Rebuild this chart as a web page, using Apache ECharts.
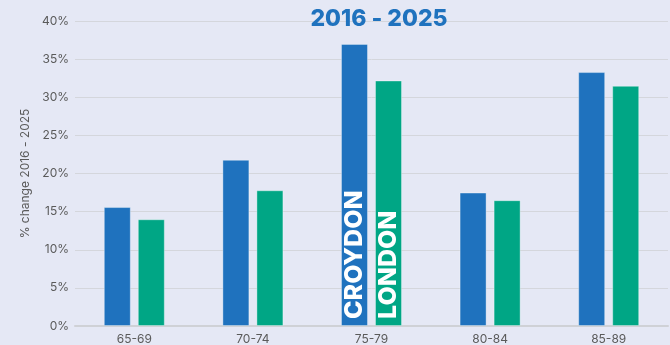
<!DOCTYPE html>
<html>
<head>
<meta charset="utf-8">
<script src="https://cdn.jsdelivr.net/npm/echarts@6/dist/echarts.min.js"></script>
<style>
  html, body { margin: 0; padding: 0; background: #e5e8f5; }
  #chart { width: 670px; height: 345px; }
</style>
</head>
<body>
<div id="chart"></div>
<script>
// Age bands and percentage change in population, 2016 - 2025
const ageBands = ['65-69', '70-74', '75-79', '80-84', '85-89'];
const croydon = [15.6, 21.8, 37.0, 17.5, 33.3];
const london = [14.0, 17.8, 32.2, 16.5, 31.5];
const yTicks = { min: 0, max: 40, interval: 5 };

const chart = echarts.init(document.getElementById('chart'));

// Series name written vertically inside the bar of the middle band only
function insideName(name, idx) {
  return function (p) { return p.dataIndex === idx ? name : ''; };
}

const barStyle = (color) => ({
  color: color,
  borderColor: 'rgba(255,255,255,0.35)',
  borderWidth: 1
});

const nameLabel = (name) => ({
  show: true,
  position: 'insideBottom',
  rotate: 90,
  align: 'left',
  verticalAlign: 'middle',
  distance: 7,
  formatter: insideName(name, 2),
  color: '#ffffff',
  fontFamily: 'Inter, "Open Sans", sans-serif',
  fontWeight: 800,
  fontSize: 25
});

chart.setOption({
  backgroundColor: '#e5e8f5',
  animation: false,
  title: {
    text: '2016 - 2025',
    left: 374,
    textAlign: 'center',
    top: 3,
    textStyle: {
      color: '#1f72be',
      fontFamily: 'Inter, "Open Sans", sans-serif',
      fontWeight: 800,
      fontSize: 23
    }
  },
  grid: { left: 75, right: 2, top: 21, bottom: 19, containLabel: false },
  xAxis: {
    type: 'category',
    data: ageBands,
    axisTick: { show: false },
    axisLine: { lineStyle: { color: '#cfd1d6', width: 2 } },
    axisLabel: {
      color: '#5a5a5a',
      fontFamily: 'Inter, sans-serif',
      fontSize: 12,
      margin: 7
    }
  },
  yAxis: {
    type: 'value',
    min: yTicks.min,
    max: yTicks.max,
    interval: yTicks.interval,
    name: '% change 2016 - 2025',
    nameLocation: 'middle',
    nameGap: 40,
    nameTextStyle: {
      color: '#5a5a5a',
      fontFamily: 'Inter, sans-serif',
      fontSize: 12
    },
    axisLine: { show: false },
    axisTick: { show: false },
    splitLine: { lineStyle: { color: '#d4d6dc', width: 1 } },
    axisLabel: {
      formatter: '{value}%',
      color: '#5a5a5a',
      fontFamily: 'Inter, sans-serif',
      fontSize: 12,
      margin: 6
    }
  },
  series: [
    {
      name: 'CROYDON',
      type: 'bar',
      data: croydon,
      barWidth: 27,
      barGap: '26%',
      itemStyle: barStyle('#1f72be'),
      label: nameLabel('CROYDON')
    },
    {
      name: 'LONDON',
      type: 'bar',
      data: london,
      barWidth: 27,
      itemStyle: barStyle('#00a685'),
      label: nameLabel('LONDON')
    }
  ]
});
</script>
</body>
</html>
